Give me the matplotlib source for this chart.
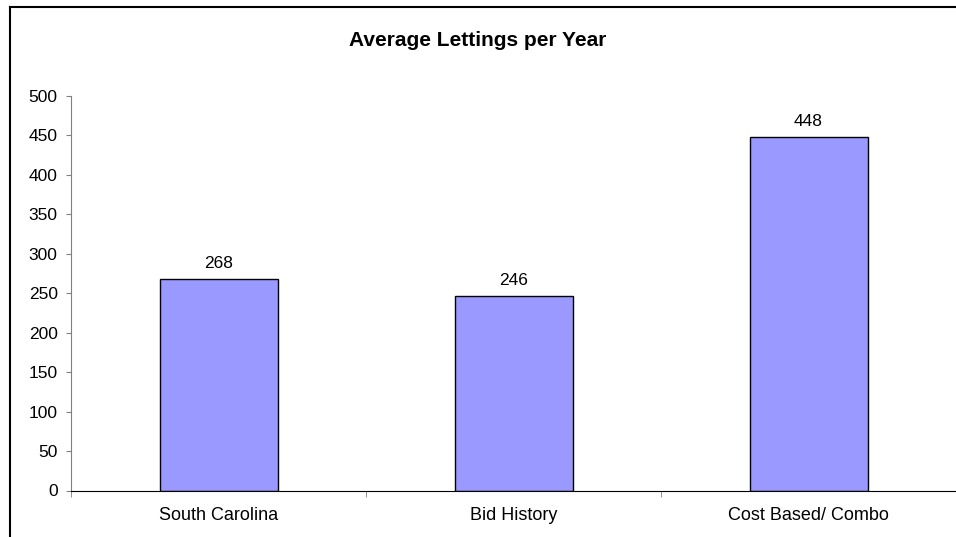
import numpy as np
import matplotlib.pyplot as plt
from matplotlib.lines import Line2D

plt.rcParams['font.family'] = ['Liberation Sans', 'DejaVu Sans']

categories = ['South Carolina', 'Bid History', 'Cost Based/ Combo']
values = [268, 246, 448]
yticks = [0, 50, 100, 150, 200, 250, 300, 350, 400, 450, 500]

fig = plt.figure(figsize=(9.56, 5.37), dpi=100)
ax = fig.add_axes([71/956, 1 - 490.5/537, 885/956, (490.5 - 96)/537])

x = np.arange(len(categories))
bars = ax.bar(x, values, width=0.4, color='#9999FF', edgecolor='black', linewidth=1)

for xi, v in zip(x, values):
    ax.annotate(str(v), (xi, v), xytext=(0, 6), textcoords='offset points',
                ha='center', va='bottom', fontsize=12.5)

ax.set_xlim(-0.5, len(categories) - 0.5)
ax.set_ylim(0, 500)
ax.set_yticks(yticks)
ax.set_xticks(x)
ax.set_xticklabels(categories, fontsize=13)
ax.tick_params(axis='x', which='major', length=0, pad=12)
ax.set_xticks(np.arange(-0.5, len(categories)), minor=True)
ax.tick_params(axis='x', which='minor', length=4, direction='out', color='#808080')
ax.tick_params(axis='y', length=3.6, direction='out', labelsize=12.5, color='#808080', pad=6)

ax.spines['top'].set_visible(False)
ax.spines['right'].set_visible(False)
ax.spines['left'].set_color('#808080')
ax.spines['bottom'].set_color('black')

fig.text(0.5, 1 - 40/537, 'Average Lettings per Year', ha='center', va='center',
         fontsize=15, fontweight='bold')

# chart area border (left and top edges visible)
fig.add_artist(Line2D([10/956, 10/956], [0, 1 - 7/537], color='black', linewidth=1.5,
                      transform=fig.transFigure))
fig.add_artist(Line2D([10/956, 1], [1 - 7/537, 1 - 7/537], color='black', linewidth=1.5,
                      transform=fig.transFigure))

fig.savefig('out.png', dpi=100)
